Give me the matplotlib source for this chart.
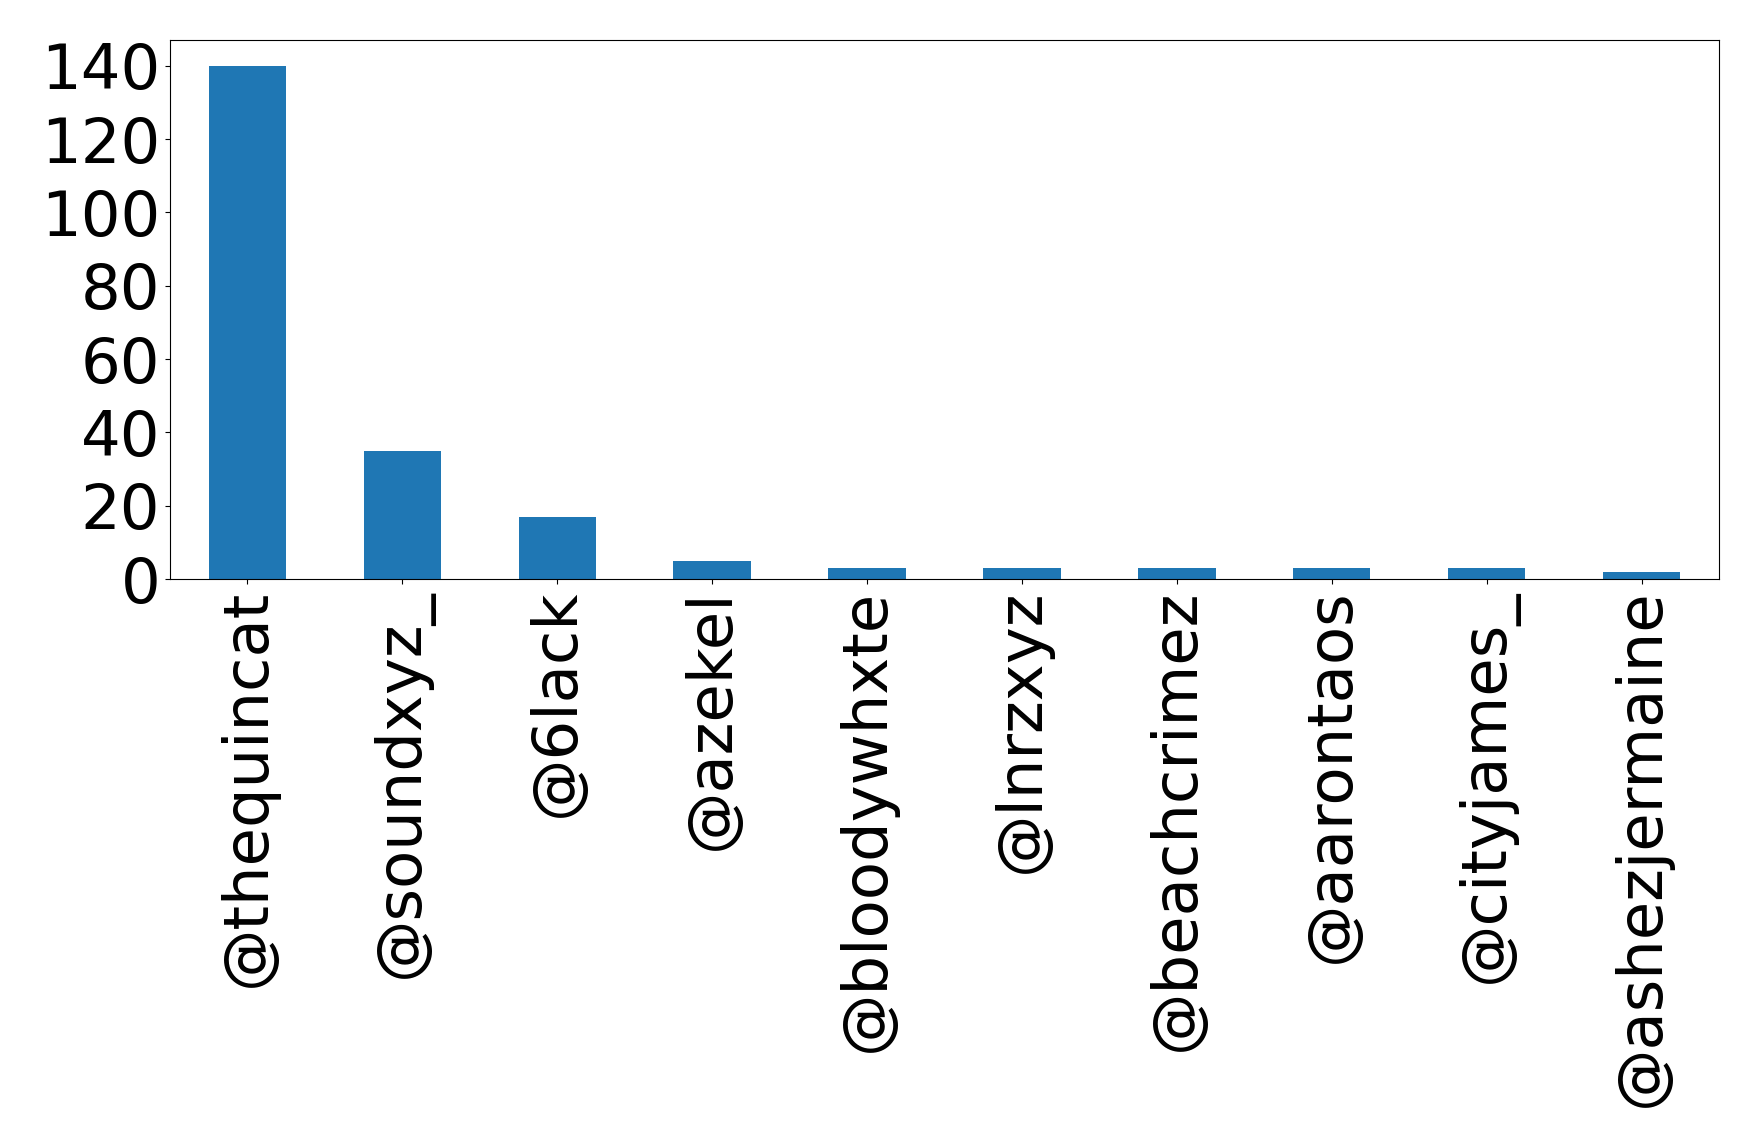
import matplotlib
matplotlib.use("Agg")
import matplotlib.pyplot as plt

accounts = ['@thequincat', '@soundxyz_', '@6lack', '@azekel', '@bloodywhxte',
            '@lnrzxyz', '@beachcrimez', '@aarontaos', '@cityjames_', '@ashezjermaine']
counts = [140, 35, 17, 5, 3, 3, 3, 3, 3, 2]
y_ticks = [0, 20, 40, 60, 80, 100, 120, 140]

fig = plt.figure(figsize=(17.58, 11.47), dpi=100)
ax = fig.add_axes([0.0967, 0.4952, 0.8811, 0.4699])

x = range(len(accounts))
ax.bar(x, counts, width=0.5, color='#1f77b4')
ax.set_xlim(-0.5, len(accounts) - 0.5)
ax.set_ylim(0, max(counts) * 1.05)
ax.set_yticks(y_ticks)
ax.set_xticks(list(x))
ax.set_xticklabels(accounts, rotation=90)
ax.tick_params(axis='both', labelsize=45)

fig.savefig('out.png', dpi=100)
